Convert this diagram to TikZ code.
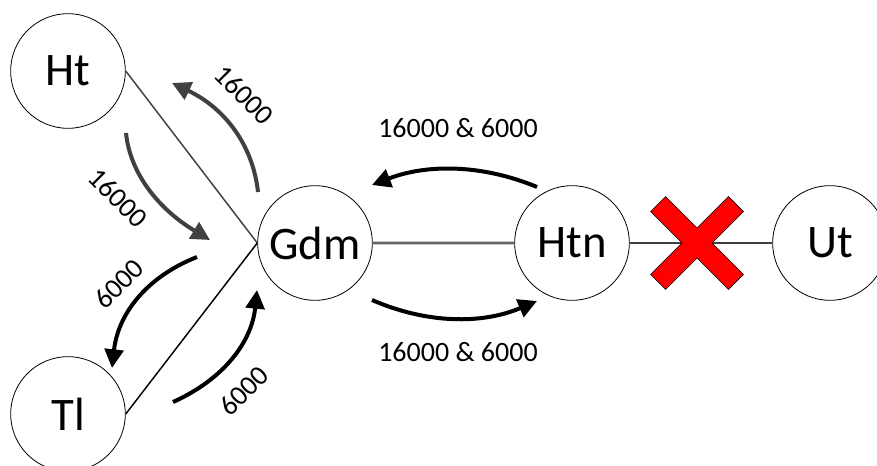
\documentclass[tikz,border=0pt]{standalone}
\usepackage{fontspec}
\setmainfont{Carlito}
\usepackage{xcolor}
\usetikzlibrary{arrows.meta,positioning,calc}
\definecolor{flowgray}{HTML}{404040}

\begin{document}
\begin{tikzpicture}[x=0.75pt, y=-0.75pt,
    site/.style={circle, draw, line width=0.6pt, minimum size=86pt, inner sep=0pt, font=\fontsize{35}{40}\selectfont},
    flow/.style={line width=3pt, -{Triangle[length=14pt,width=14pt]}},
    lbl/.style={font=\fontsize{21}{25}\selectfont}]
\useasboundingbox (0,0) rectangle (877,466);
\clip (0,0) rectangle (877,466);
% Sites
\node[site] (Ht)  at (68,71)   {Ht};
\node[site] (Tl)  at (68,414)  {Tl};
\node[site] (Gdm) at (315,243) {Gdm};
\node[site] (Htn) at (572,243) {Htn};
\node[site] (Ut)  at (830,243) {Ut};
% Links
\draw[flowgray, line width=1.1pt] (Ht.east) -- (Gdm.west);
\draw[black, line width=1.1pt] (Tl.east) -- (Gdm.west);
\draw[gray!45, line width=3pt] (Gdm.east) -- (Htn.west);
\draw[flowgray!80, line width=1.2pt] (Gdm.east) -- (Htn.west);
\draw[flowgray, line width=2.2pt] (Htn.east) -- (Ut.west);
% Broken link
\begin{scope}[shift={(697,243)}, rotate=45]
\filldraw[red, draw=black, line width=0.5pt]
  (-10.6,-55) -- (10.6,-55) -- (10.6,-10.6) -- (55,-10.6) -- (55,10.6) -- (10.6,10.6)
  -- (10.6,55) -- (-10.6,55) -- (-10.6,10.6) -- (-55,10.6) -- (-55,-10.6) -- (-10.6,-10.6) -- cycle;
\end{scope}
% Flow end points
\coordinate (a1) at (258,192); \coordinate (b1) at (172,83);
\coordinate (a2) at (126,133); \coordinate (b2) at (210,240);
\coordinate (a3) at (197,257); \coordinate (b3) at (112,368);
\coordinate (a4) at (173,402); \coordinate (b4) at (257,290);
\coordinate (a5) at (537,187); \coordinate (b5) at (372,185);
\coordinate (a6) at (372,300); \coordinate (b6) at (537,301);
% Flows between Ht and Gdm
\draw[flow, flowgray] (a1) .. controls (252.7,144) and (224,107.7) .. (b1);
\draw[flow, flowgray] (a2) .. controls (130,173) and (158,208.7) .. (b2);
\node[lbl, rotate=-45] (f1) at (244,95)  {16000};
\node[lbl, rotate=-45] (f2) at (118,198) {16000};
% Flows between Tl and Gdm
\draw[flow] (a3) .. controls (146.3,277) and (118,314) .. (b3);
\draw[flow] (a4) .. controls (223.7,379.3) and (251.7,342) .. (b4);
\node[lbl, rotate=45] (f3) at (119,284) {6000};
\node[lbl, rotate=45] (f4) at (244,391) {6000};
% Flows between Gdm and Htn
\draw[flow] (a5) .. controls (482.3,164.3) and (427.3,163.7) .. (b5);
\draw[flow] (a6) .. controls (427.3,324) and (482.3,324.3) .. (b6);
\node[lbl] (f5) at (458,128) {16000 \& 6000};
\node[lbl] (f6) at (458,352) {16000 \& 6000};
\end{tikzpicture}
\end{document}
